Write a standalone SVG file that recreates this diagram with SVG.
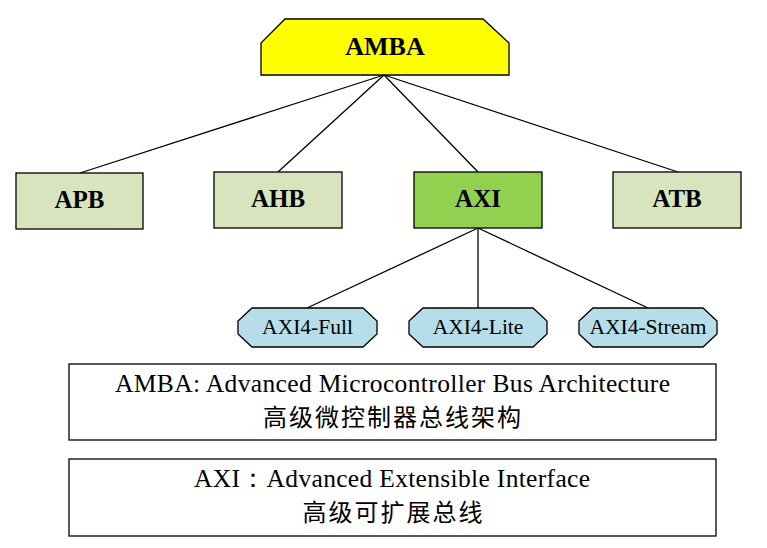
<svg xmlns="http://www.w3.org/2000/svg" width="767" height="548" viewBox="0 0 767 548">
<style>
.b{stroke:#000;stroke-width:1.3}
.lg{fill:#D7E4BD}
.t{font-family:"Liberation Serif","Times New Roman",serif;fill:#000;text-anchor:middle}
.bold{font-weight:bold;font-size:25px}
.big{font-size:26px}
.sub{font-size:21.5px}
.desc{font-size:25.5px}
.cn{font-family:"Noto Sans CJK SC",sans-serif;font-size:24px;fill:#000;text-anchor:middle;letter-spacing:2px}
.c{stroke:#000;stroke-width:1.3;fill:none}
</style>
<rect width="767" height="548" fill="#fff"/>
<g id="connectors">
<line class="c" x1="384" y1="75" x2="80" y2="173"/>
<line class="c" x1="384" y1="75" x2="278" y2="172"/>
<line class="c" x1="384" y1="75" x2="478" y2="172"/>
<line class="c" x1="384" y1="75" x2="678" y2="172"/>
<line class="c" x1="478" y1="228" x2="307" y2="308"/>
<line class="c" x1="478" y1="228" x2="478" y2="308"/>
<line class="c" x1="478" y1="228" x2="648" y2="308"/>
</g>
<g id="amba">
<polygon class="b" fill="#FFFF00" points="285,19 483,19 509,43 509,75 261,75 261,43"/>
<text class="t bold big" x="385" y="55">AMBA</text>
</g>
<g id="apb">
<rect class="b lg" x="16" y="173" width="127" height="56"/>
<text class="t bold" x="79.5" y="208">APB</text>
</g>
<g id="ahb">
<rect class="b lg" x="214" y="172" width="128" height="56"/>
<text class="t bold" x="278" y="207">AHB</text>
</g>
<g id="axi">
<rect class="b" fill="#92D050" x="414" y="172" width="128" height="56"/>
<text class="t bold" x="478" y="207">AXI</text>
</g>
<g id="atb">
<rect class="b lg" x="613" y="172" width="128" height="56"/>
<text class="t bold" x="677" y="207">ATB</text>
</g>
<g id="axi4-full">
<polygon class="b" fill="#B7DDE8" points="252,308 363,308 377,321 377,334 363,347 252,347 238,334 238,321"/>
<text class="t sub" x="307.5" y="334">AXI4-Full</text>
</g>
<g id="axi4-lite">
<polygon class="b" fill="#B7DDE8" points="423,308 533,308 547,321 547,334 533,347 423,347 409,334 409,321"/>
<text class="t sub" x="478" y="334">AXI4-Lite</text>
</g>
<g id="axi4-stream">
<polygon class="b" fill="#B7DDE8" points="593,308 703,308 717,321 717,334 703,347 593,347 579,334 579,321"/>
<text class="t sub" x="648" y="334">AXI4-Stream</text>
</g>
<g id="note-amba">
<rect class="b" fill="#fff" x="69" y="364" width="647" height="76"/>
<text class="t desc" x="392.5" y="392" textLength="555" lengthAdjust="spacing">AMBA: Advanced Microcontroller Bus Architecture</text>
<text class="cn" x="393" y="426">高级微控制器总线架构</text>
</g>
<g id="note-axi">
<rect class="b" fill="#fff" x="69" y="459" width="647" height="77"/>
<text class="t desc" x="392" y="487" textLength="396" lengthAdjust="spacing">AXI：Advanced Extensible Interface</text>
<text class="cn" x="393.5" y="521">高级可扩展总线</text>
</g>
</svg>
